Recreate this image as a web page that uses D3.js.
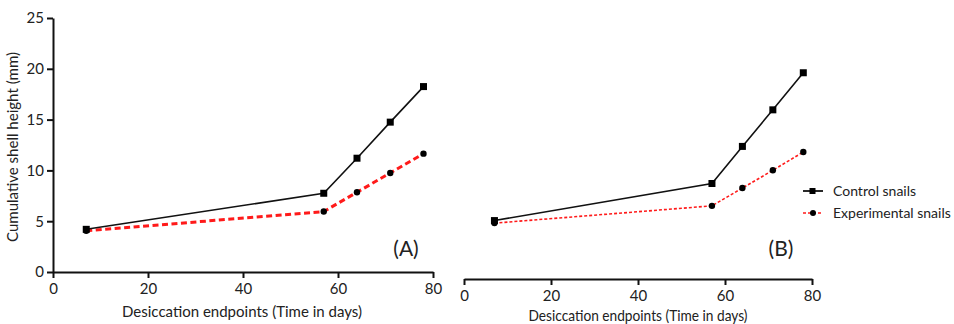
<!DOCTYPE html>
<html><head><meta charset="utf-8">
<script src="https://cdn.jsdelivr.net/npm/d3@7"></script>
<style>body{margin:0;background:#fff}svg{display:block}text{font-family:Lato,"Open Sans",sans-serif;fill:#222}</style>
</head><body><svg id="c" width="954" height="324"></svg>
<script>
const days = [7, 57, 64, 71, 78];
const controlA = [4.2, 7.75, 11.2, 14.75, 18.25];
const experimentalA = [4.05, 5.95, 7.85, 9.75, 11.65];
const controlB = [5.75, 9.4, 13.05, 16.65, 20.3];
const experimentalB = [5.5, 7.2, 8.95, 10.7, 12.5];
const xTicks = [0, 20, 40, 60, 80];
const yTicks = [0, 5, 10, 15, 20, 25];
const seriesNames = ["Control snails", "Experimental snails"];
const xTitle = "Desiccation endpoints (Time in days)";
const yTitle = "Cumulative shell height (mm)";

const svg = d3.select("#c");

function panel(cfg){
  const x = d3.scaleLinear().domain([0,80]).range([cfg.x0, cfg.x1]);
  const y = d3.scaleLinear().domain([0,25]).range([cfg.y0, cfg.y1]);
  const g = svg.append("g");
  const xa = g.append("g").attr("transform",`translate(0,${cfg.y0})`)
    .call(d3.axisBottom(x).tickValues(xTicks).tickSize(6).tickPadding(5).tickSizeOuter(0));
  xa.select(".domain").attr("stroke","#111").attr("stroke-width",2);
  xa.selectAll(".tick line").attr("stroke","#111").attr("stroke-width",2);
  xa.selectAll(".tick text").style("font-size","15px").attr("fill","#222");
  if(cfg.yAxis){
    const ya = g.append("g").attr("transform",`translate(${cfg.x0},0)`)
      .call(d3.axisLeft(y).tickValues(yTicks).tickSize(6).tickPadding(3).tickSizeOuter(0));
    ya.select(".domain").attr("stroke","#111").attr("stroke-width",2);
    ya.selectAll(".tick line").attr("stroke","#111").attr("stroke-width",2);
    ya.selectAll(".tick text").style("font-size","15px").attr("fill","#222");
    g.append("text").attr("transform",`translate(18,${(cfg.y0+cfg.y1)/2 + 2}) rotate(-90)`)
      .attr("text-anchor","middle").style("font-size","15px")
      .attr("textLength",190).attr("lengthAdjust","spacingAndGlyphs").text(yTitle);
  }
  g.append("text").attr("x",cfg.titleX).attr("y",cfg.titleY).attr("text-anchor","middle")
    .style("font-size","15px").attr("textLength",cfg.titleW).attr("lengthAdjust","spacingAndGlyphs").text(xTitle);
  const line = d3.line().x((d,i)=>x(days[i])).y(d=>y(d));
  g.append("path").datum(cfg.exp).attr("d",line).attr("fill","none")
    .attr("stroke","#ff1a1a").attr("stroke-width",cfg.expW).attr("stroke-dasharray",cfg.expDash);
  g.append("path").datum(cfg.ctl).attr("d",line).attr("fill","none")
    .attr("stroke","#111").attr("stroke-width",1.6);
  g.selectAll(".sq").data(cfg.ctl).join("rect")
    .attr("x",(d,i)=>x(days[i])-3.5).attr("y",d=>y(d)-3.5).attr("width",7).attr("height",7).attr("fill","#000");
  g.selectAll(".ci").data(cfg.exp).join("circle")
    .attr("cx",(d,i)=>x(days[i])).attr("cy",d=>y(d)).attr("r",3.2).attr("fill","#000");
  g.append("text").attr("x",cfg.labX).attr("y",cfg.labY).attr("text-anchor","middle")
    .style("font-size","21px").attr("fill","#222").text(cfg.label);
}

panel({x0:53,x1:433,y0:272,y1:18,yAxis:true,ctl:controlA,exp:experimentalA,expW:3,expDash:"6,3.5",
  titleX:242,titleY:317,titleW:240,label:"(A)",labX:406,labY:256});
panel({x0:464,x1:812,y0:279,y1:25,yAxis:false,ctl:controlB,exp:experimentalB,expW:1.6,expDash:"3,2",
  titleX:638,titleY:321,titleW:219,label:"(B)",labX:781,labY:256});

// legend
const lg = svg.append("g");
const items = [{name:seriesNames[0],y:191,color:"#111",dash:null,w:1.8,shape:"sq"},
               {name:seriesNames[1],y:213,color:"#ff1a1a",dash:"3,2",w:1.6,shape:"ci"}];
items.forEach(it=>{
  lg.append("line").attr("x1",803).attr("x2",823).attr("y1",it.y).attr("y2",it.y)
    .attr("stroke",it.color).attr("stroke-width",it.w).attr("stroke-dasharray",it.dash);
  if(it.shape==="sq") lg.append("rect").attr("x",809.5).attr("y",it.y-3).attr("width",6).attr("height",6).attr("fill","#000");
  else lg.append("circle").attr("cx",813).attr("cy",it.y).attr("r",3).attr("fill","#000");
  lg.append("text").attr("x",833).attr("y",it.y+5).style("font-size","14px").text(it.name);
});
</script></body></html>
